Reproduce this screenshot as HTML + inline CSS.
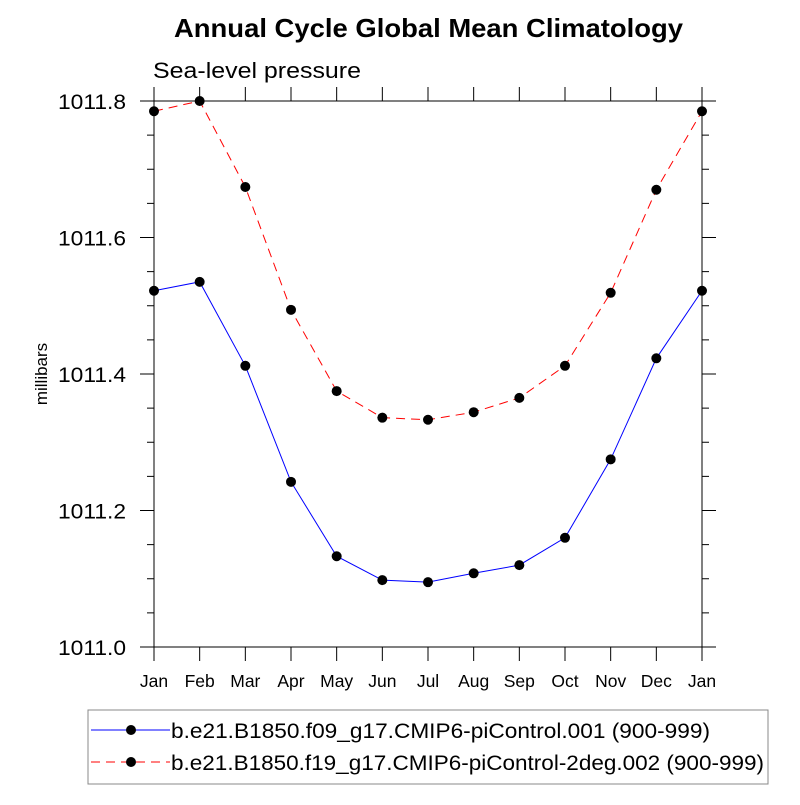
<!DOCTYPE html>
<html><head><meta charset="utf-8"><style>
body{margin:0;background:#fff}
svg text{font-family:"Liberation Sans",sans-serif;fill:#000}
</style></head><body>
<svg width="800" height="800" viewBox="0 0 800 800">
<text x="174" y="37" font-size="26" font-weight="bold" textLength="509" lengthAdjust="spacingAndGlyphs">Annual Cycle Global Mean Climatology</text>
<text x="153" y="78" font-size="22" textLength="208" lengthAdjust="spacingAndGlyphs">Sea-level pressure</text>
<text transform="translate(47,374) rotate(-90)" font-size="17" text-anchor="middle">millibars</text>
<g id="axes"></g>
<g id="series"></g>
<g>
<rect x="88" y="710" width="680" height="74" fill="none" stroke="#888" stroke-width="1"/>
<line x1="91" y1="730" x2="170" y2="730" stroke="#0000ff" stroke-width="1"/>
<circle cx="131" cy="730" r="5" fill="#000"/>
<text x="171" y="738" font-size="21" textLength="539" lengthAdjust="spacingAndGlyphs">b.e21.B1850.f09_g17.CMIP6-piControl.001 (900-999)</text>
<line x1="91" y1="762" x2="170" y2="762" stroke="#ff0000" stroke-width="1" stroke-dasharray="9,6"/>
<circle cx="131" cy="762" r="5" fill="#000"/>
<text x="171" y="770" font-size="21" textLength="593" lengthAdjust="spacingAndGlyphs">b.e21.B1850.f19_g17.CMIP6-piControl-2deg.002 (900-999)</text>
</g>
</svg>
<script>
const months=["Jan","Feb","Mar","Apr","May","Jun","Jul","Aug","Sep","Oct","Nov","Dec","Jan"];
const series1=[1011.522,1011.535,1011.412,1011.242,1011.133,1011.098,1011.095,1011.108,1011.120,1011.160,1011.275,1011.423,1011.522];
const series2=[1011.785,1011.800,1011.674,1011.494,1011.375,1011.336,1011.333,1011.344,1011.365,1011.412,1011.519,1011.670,1011.785];
const yTicks=[1011.0,1011.2,1011.4,1011.6,1011.8];
const yTickLabels=["1011.0","1011.2","1011.4","1011.6","1011.8"];
const L=154,R=702,T=101,B=647,yMin=1011.0,yMax=1011.8;
const xs=i=>L+i*(R-L)/(months.length-1);
const ys=v=>B-(v-yMin)/(yMax-yMin)*(B-T);
const NS="http://www.w3.org/2000/svg";
const ax=document.getElementById('axes'),sg=document.getElementById('series');
function mk(tag,at,p){const e=document.createElementNS(NS,tag);for(const k in at)e.setAttribute(k,at[k]);p.appendChild(e);return e;}
const frame=mk('rect',{x:L,y:T,width:R-L,height:B-T,fill:'none',stroke:'#000','stroke-width':1},ax);


months.forEach((m,i)=>{
 const x=xs(i);
 mk('line',{x1:x,y1:B,x2:x,y2:B+14,stroke:'#000'},ax);
 mk('line',{x1:x,y1:T,x2:x,y2:T-14,stroke:'#000'},ax);
 const t=mk('text',{x:x,y:B+40,'font-size':17.5,'text-anchor':'middle'},ax);
 t.textContent=m;
 
 
});
for(let v=yMin;v<=yMax+1e-9;v+=0.05){
 const y=ys(v);const major=Math.abs(Math.round(v*5)-v*5)<1e-6;const len=major?14:7;
 mk('line',{x1:L-len,y1:y,x2:L,y2:y,stroke:'#000'},ax);
 mk('line',{x1:R,y1:y,x2:R+len,y2:y,stroke:'#000'},ax);
}
yTicks.forEach((v,i)=>{
 const t=mk('text',{x:L-28,y:ys(v)+8,'font-size':21,'text-anchor':'end',textLength:68,lengthAdjust:'spacingAndGlyphs'},ax);
 t.textContent=yTickLabels[i];
 
 
});
function draw(data,color,dash,name){
 const pl=mk('polyline',{points:data.map((v,i)=>xs(i)+','+ys(v)).join(' '),fill:'none',stroke:color,'stroke-width':1,'stroke-dasharray':dash},sg);
 
 
 data.forEach((v,i)=>{
  const c=mk('circle',{cx:xs(i),cy:ys(v),r:5,fill:'#000'},sg);
  
  
 });
}
draw(series1,'#0000ff','none','series-001');
draw(series2,'#ff0000','9,6','series-002');
</script>
</body></html>
